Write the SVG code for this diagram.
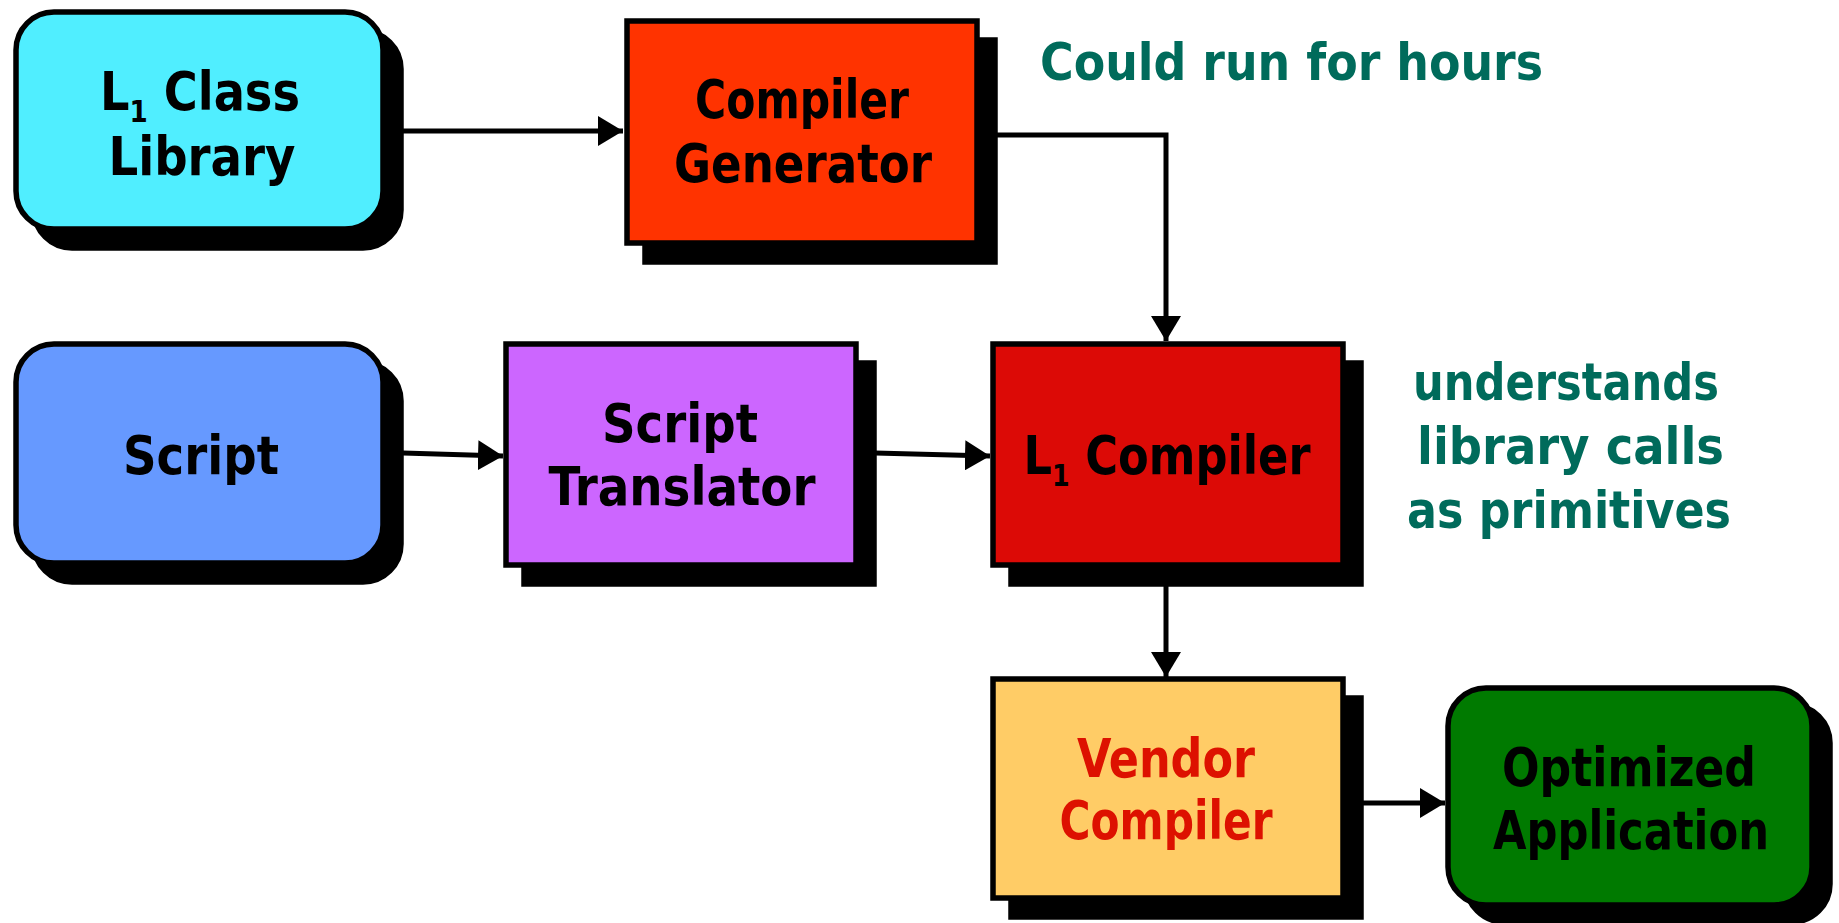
<svg xmlns="http://www.w3.org/2000/svg" width="1839" height="923" viewBox="0 0 1839 923">
  <style>
    .box { stroke: #000; stroke-width: 5.5; }
    .shadow { fill: #000; stroke: #000; stroke-width: 5.5; }
    .lbl { font-family: "DejaVu Sans Condensed", "DejaVu Sans", sans-serif; font-weight: bold; font-size: 53px; fill: #000; text-anchor: middle; }
    .note { font-family: "DejaVu Sans Condensed", "DejaVu Sans", sans-serif; font-weight: bold; font-size: 51px; fill: #006B5B; }
    .sub { font-size: 30px; }
    .wire { fill: none; stroke: #000; stroke-width: 5; }
  </style>
  <defs>
    <marker id="head" viewBox="0 0 25 30" refX="25" refY="15" markerWidth="5" markerHeight="6" markerUnits="strokeWidth" orient="auto">
      <path d="M0,0 L25,15 L0,30 Z" fill="#000"/>
    </marker>
  </defs>
  <rect width="1839" height="923" fill="#fff"/>

  <!-- connectors -->
  <g id="connectors">
    <path class="wire" d="M403,131 L623,131" marker-end="url(#head)"/>
    <path class="wire" d="M997,135 L1166,135 L1166,341" marker-end="url(#head)"/>
    <path class="wire" d="M403,453 L503,456" marker-end="url(#head)"/>
    <path class="wire" d="M875,453 L990,456" marker-end="url(#head)"/>
    <path class="wire" d="M1166,586 L1166,677" marker-end="url(#head)"/>
    <path class="wire" d="M1362,803 L1445,803" marker-end="url(#head)"/>
  </g>

  <!-- nodes -->
  <g id="class-library">
    <rect class="shadow" x="34" y="31" width="367" height="217" rx="38"/>
    <rect class="box" x="16" y="12" width="367" height="217" rx="38" fill="#50EEFF"/>
    <text class="lbl" x="200" y="110" textLength="200" lengthAdjust="spacingAndGlyphs">L<tspan class="sub" dy="12">1</tspan><tspan dy="-12"> Class</tspan></text>
    <text class="lbl" x="202" y="175" textLength="187" lengthAdjust="spacingAndGlyphs">Library</text>
  </g>

  <g id="compiler-generator">
    <rect class="shadow" x="645" y="40" width="350" height="222"/>
    <rect class="box" x="627" y="21" width="350" height="222" fill="#FF3300"/>
    <text class="lbl" x="802" y="118" textLength="214" lengthAdjust="spacingAndGlyphs">Compiler</text>
    <text class="lbl" x="803" y="182" textLength="258" lengthAdjust="spacingAndGlyphs">Generator</text>
  </g>

  <g id="script">
    <rect class="shadow" x="34" y="363" width="367" height="219" rx="38"/>
    <rect class="box" x="16" y="344" width="367" height="219" rx="38" fill="#6699FF"/>
    <text class="lbl" x="201" y="474" textLength="156" lengthAdjust="spacingAndGlyphs">Script</text>
  </g>

  <g id="script-translator">
    <rect class="shadow" x="524" y="363" width="350" height="221"/>
    <rect class="box" x="506" y="344" width="350" height="221" fill="#CC66FF"/>
    <text class="lbl" x="680" y="442" textLength="156" lengthAdjust="spacingAndGlyphs">Script</text>
    <text class="lbl" x="682" y="505" textLength="267" lengthAdjust="spacingAndGlyphs">Translator</text>
  </g>

  <g id="l1-compiler">
    <rect class="shadow" x="1011" y="363" width="350" height="221"/>
    <rect class="box" x="993" y="344" width="350" height="221" fill="#DC0A06"/>
    <text class="lbl" x="1167" y="474" textLength="287" lengthAdjust="spacingAndGlyphs">L<tspan class="sub" dy="12">1</tspan><tspan dy="-12"> Compiler</tspan></text>
  </g>

  <g id="vendor-compiler">
    <rect class="shadow" x="1011" y="698" width="350" height="219"/>
    <rect class="box" x="993" y="679" width="350" height="219" fill="#FFCC66"/>
    <text class="lbl" x="1166" y="777" style="fill:#DD1100" textLength="178" lengthAdjust="spacingAndGlyphs">Vendor</text>
    <text class="lbl" x="1166" y="839" style="fill:#DD1100" textLength="213" lengthAdjust="spacingAndGlyphs">Compiler</text>
  </g>

  <g id="optimized-application">
    <rect class="shadow" x="1466" y="705" width="364" height="217" rx="38"/>
    <rect class="box" x="1448" y="688" width="364" height="217" rx="38" fill="#007A00"/>
    <text class="lbl" x="1629" y="786" textLength="254" lengthAdjust="spacingAndGlyphs">Optimized</text>
    <text class="lbl" x="1631" y="849" textLength="276" lengthAdjust="spacingAndGlyphs">Application</text>
  </g>

  <!-- side notes -->
  <g id="notes">
    <text class="note" x="1040" y="80" textLength="503" lengthAdjust="spacingAndGlyphs">Could run for hours</text>
    <text class="note" x="1413" y="400" textLength="306" lengthAdjust="spacingAndGlyphs">understands</text>
    <text class="note" x="1417" y="464" textLength="307" lengthAdjust="spacingAndGlyphs">library calls</text>
    <text class="note" x="1407" y="528" textLength="324" lengthAdjust="spacingAndGlyphs">as primitives</text>
  </g>
</svg>
